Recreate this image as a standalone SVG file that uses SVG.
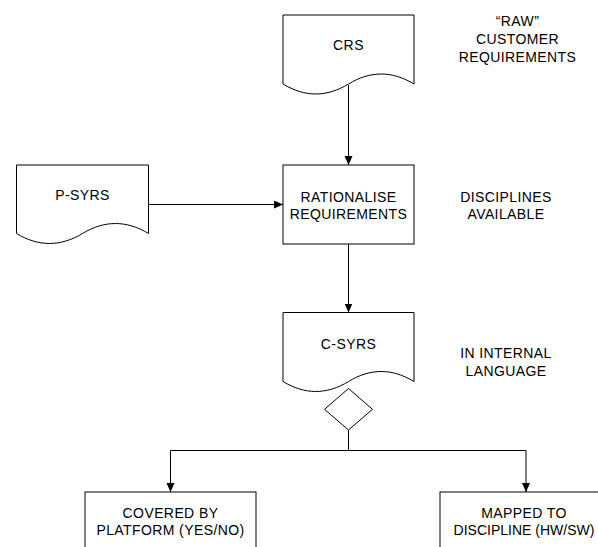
<svg xmlns="http://www.w3.org/2000/svg" width="598" height="547" viewBox="0 0 598 547">
  <style>
    .shape { fill: #fff; stroke: #000; stroke-width: 1; }
    .wire { fill: none; stroke: #000; stroke-width: 1; }
    .arrow { marker-end: url(#head); }
    text { font-family: "Liberation Sans", Arial, sans-serif; font-size: 14px; letter-spacing: 0.4px; fill: #000; text-anchor: middle; }
    .tight { letter-spacing: 0; }
  </style>
  <defs>
    <marker id="head" markerUnits="userSpaceOnUse" markerWidth="10" markerHeight="9" refX="9" refY="4" orient="auto">
      <path d="M0,0 L9,4 L0,8 Z" fill="#000"/>
    </marker>
  </defs>

  <rect width="598" height="547" fill="#fff"/>

  <!-- connectors -->
  <g id="connectors">
    <line class="wire arrow" x1="348.5" y1="85" x2="348.5" y2="165"/>
    <line class="wire arrow" x1="148.5" y1="204.5" x2="283" y2="204.5"/>
    <line class="wire arrow" x1="348.5" y1="244" x2="348.5" y2="312.5"/>
    <line class="wire" x1="348.5" y1="430" x2="348.5" y2="450.5"/>
    <polyline class="wire arrow" points="348.5,450.5 170.5,450.5 170.5,492"/>
    <polyline class="wire arrow" points="348.5,450.5 526,450.5 526,492"/>
  </g>

  <!-- CRS document -->
  <g id="crs">
    <path class="shape" d="M283,15 H414 V84 C392.2,70.7 370.3,70.7 348.5,84 C326.7,97.3 304.8,97.3 283,84 Z"/>
    <text x="348.5" y="50">CRS</text>
  </g>

  <!-- P-SYRS document -->
  <g id="psyrs">
    <path class="shape" d="M16.5,165 H148.5 V233.5 C126.5,220.2 104.5,220.2 82.5,233.5 C60.5,246.8 38.5,246.8 16.5,233.5 Z"/>
    <text x="82.5" y="200">P-SYRS</text>
  </g>

  <!-- Rationalise process -->
  <g id="rationalise">
    <rect class="shape" x="283" y="165" width="131" height="79"/>
    <text x="348.5" y="201.5">RATIONALISE</text>
    <text x="348.5" y="218.5">REQUIREMENTS</text>
  </g>

  <!-- C-SYRS document -->
  <g id="csyrs">
    <path class="shape" d="M283,312.5 H414 V381.5 C392.2,368.2 370.3,368.2 348.5,381.5 C326.7,394.8 304.8,394.8 283,381.5 Z"/>
    <text x="348.5" y="348.5">C-SYRS</text>
  </g>

  <!-- decision -->
  <g id="decision">
    <polygon class="shape" points="348.5,388.5 372.5,409.3 348.5,430 324.5,409.3"/>
  </g>

  <!-- outcome boxes -->
  <g id="covered">
    <rect class="shape" x="85" y="492" width="171" height="70"/>
    <text x="170.5" y="518">COVERED BY</text>
    <text x="170.5" y="535">PLATFORM (YES/NO)</text>
  </g>
  <g id="mapped">
    <rect class="shape" x="440" y="492" width="172" height="70"/>
    <text x="524" y="518">MAPPED TO</text>
    <text class="tight" x="524" y="535">DISCIPLINE (HW/SW)</text>
  </g>

  <!-- side notes -->
  <g id="note-raw">
    <text x="517.5" y="26">“RAW”</text>
    <text x="517.5" y="43.5">CUSTOMER</text>
    <text x="517.5" y="61.5">REQUIREMENTS</text>
  </g>
  <g id="note-disciplines">
    <text x="506" y="201.5">DISCIPLINES</text>
    <text x="506" y="218.5">AVAILABLE</text>
  </g>
  <g id="note-language">
    <text x="506" y="358">IN INTERNAL</text>
    <text x="506" y="375.5">LANGUAGE</text>
  </g>
</svg>
